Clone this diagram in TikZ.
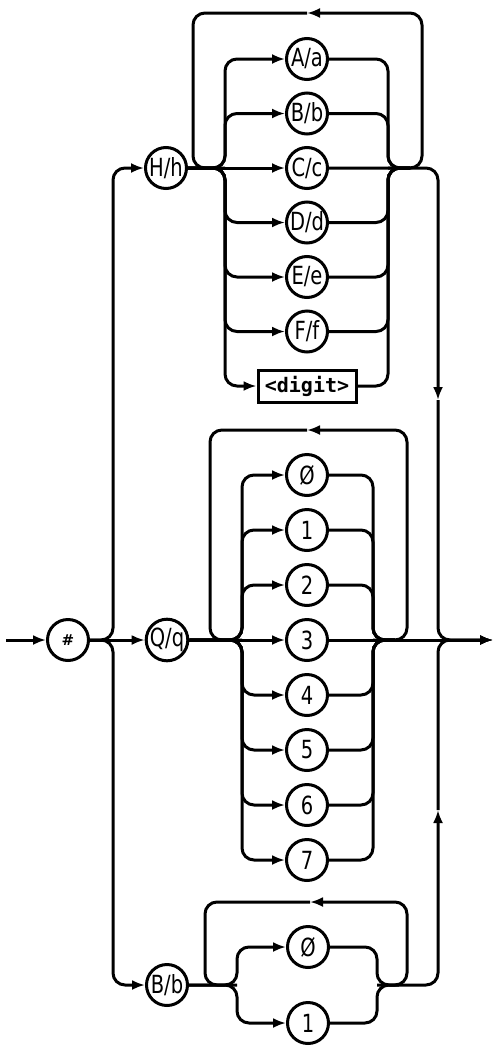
\documentclass[tikz,border=0pt]{standalone}
\usepackage{fontspec}
\setsansfont{DejaVu Sans}
\setmonofont{DejaVu Sans Mono}
\usepackage{graphicx}
\usetikzlibrary{arrows.meta}
\newcommand{\plot}[1]{\scalebox{0.78}[1]{#1}}

\begin{document}
\begin{tikzpicture}[x=1pt,y=-1pt,line width=3pt,
  sym/.style={circle,draw,minimum size=41pt,inner sep=0pt,font=\sffamily\fontsize{25}{25}\selectfont},
  nonterm/.style={rectangle,draw,minimum width=98pt,minimum height=32pt,inner sep=0pt,font=\ttfamily\bfseries\fontsize{20}{20}\selectfont},
  track/.style={rounded corners=12pt},
  arr/.style={-{Latex[length=13pt,width=10pt]}}]
\useasboundingbox (0,0) rectangle (495,1047);
\node[sym,font=\sffamily\bfseries\fontsize{15}{15}\selectfont] (hash) at (68,640) {\#};
\node[sym] (hh) at (166,168) {\plot{H/h}};
\node[sym] (qq) at (167,640) {\plot{Q/q}};
\node[sym] (bb) at (167,985) {\plot{B/b}};
\node[sym] (ha) at (307,59) {\plot{A/a}};
\node[sym] (hb) at (307,113.5) {\plot{B/b}};
\node[sym] (hc) at (307,168) {\plot{C/c}};
\node[sym] (hd) at (307,222.5) {\plot{D/d}};
\node[sym] (he) at (307,277) {\plot{E/e}};
\node[sym] (hf) at (307,331.5) {\plot{F/f}};
\node[nonterm] (hg) at (307,386) {<digit>};
\node[sym] (o0) at (307,475) {\plot{Ø}};
\node[sym] (o1) at (307,530) {\plot{1}};
\node[sym] (o2) at (307,585) {\plot{2}};
\node[sym] (o3) at (307,640) {\plot{3}};
\node[sym] (o4) at (307,695) {\plot{4}};
\node[sym] (o5) at (307,750) {\plot{5}};
\node[sym] (o6) at (307,805) {\plot{6}};
\node[sym] (o7) at (307,860) {\plot{7}};
\node[sym] (b0) at (308,947) {\plot{Ø}};
\node[sym] (b1) at (308,1023) {\plot{1}};
\coordinate (in) at (6,640);
\coordinate (out) at (493,640);
\coordinate (railL) at (113,640);
\coordinate (railR) at (438,640);
\coordinate (hexsplit) at (225,168);
\coordinate (hexjoin) at (388,168);
\coordinate (hexmerge) at (410,168);
\coordinate (hexloopL) at (193,168);
\coordinate (hexloopR) at (422,168);
\coordinate (hextop) at (307,13);
\coordinate (hexout) at (438,168);
\coordinate (hexdown) at (438,400);
\coordinate (octsplit) at (242,640);
\coordinate (octjoin) at (373,640);
\coordinate (octmerge) at (395,640);
\coordinate (octloopL) at (210,640);
\coordinate (octloopR) at (407,640);
\coordinate (octtop) at (307,430);
\coordinate (binsplit) at (237,985);
\coordinate (binjoin) at (377,985);
\coordinate (binmerge) at (399,985);
\coordinate (binloopL) at (205,985);
\coordinate (binloopR) at (407,985);
\coordinate (bintop) at (310,902);
\coordinate (binout) at (438,985);
\coordinate (binup) at (438,810);
\draw[arr] (in) -- (hash);
\draw[track,arr] (hash) -- (railL) |- (hh);
\draw[arr] (hash) -- (qq);
\draw[track,arr] (hash) -- (railL) |- (bb);
\draw[arr] (hh) -- (hc);
\draw[track,arr] (hh) -- (hexsplit) |- (ha);
\draw[track,arr] (hh) -- (hexsplit) |- (hb);
\draw[track,arr] (hh) -- (hexsplit) |- (hd);
\draw[track,arr] (hh) -- (hexsplit) |- (he);
\draw[track,arr] (hh) -- (hexsplit) |- (hf);
\draw[track,arr] (hh) -- (hexsplit) |- (hg);
\draw[track] (ha) -| (hexjoin) -- (hexmerge);
\draw[track] (hb) -| (hexjoin) -- (hexmerge);
\draw[track] (hd) -| (hexjoin) -- (hexmerge);
\draw[track] (he) -| (hexjoin) -- (hexmerge);
\draw[track] (hf) -| (hexjoin) -- (hexmerge);
\draw[track] (hg) -| (hexjoin) -- (hexmerge);
\draw[track,arr] (hexjoin) -- (hexloopR) |- (hextop);
\draw[track] (hextop) -| (hexloopL) -- (hexsplit);
\draw[track,arr] (hc) -- (hexout) -- (hexdown);
\draw[track,arr] (hexdown) -- (railR) -- (out);
\draw[arr] (qq) -- (o3);
\draw[track,arr] (qq) -- (octsplit) |- (o0);
\draw[track,arr] (qq) -- (octsplit) |- (o1);
\draw[track,arr] (qq) -- (octsplit) |- (o2);
\draw[track,arr] (qq) -- (octsplit) |- (o4);
\draw[track,arr] (qq) -- (octsplit) |- (o5);
\draw[track,arr] (qq) -- (octsplit) |- (o6);
\draw[track,arr] (qq) -- (octsplit) |- (o7);
\draw[track] (o0) -| (octjoin) -- (octmerge);
\draw[track] (o1) -| (octjoin) -- (octmerge);
\draw[track] (o2) -| (octjoin) -- (octmerge);
\draw[track] (o4) -| (octjoin) -- (octmerge);
\draw[track] (o5) -| (octjoin) -- (octmerge);
\draw[track] (o6) -| (octjoin) -- (octmerge);
\draw[track] (o7) -| (octjoin) -- (octmerge);
\draw[track,arr] (octjoin) -- (octloopR) |- (octtop);
\draw[track] (octtop) -| (octloopL) -- (octsplit);
\draw[arr] (o3) -- (out);
\draw[track,arr] (bb) -- (binsplit) |- (b0);
\draw[track,arr] (bb) -- (binsplit) |- (b1);
\draw[track,arr] (b0) -| (binjoin) -- (binout) -- (binup);
\draw[track] (b1) -| (binjoin) -- (binmerge);
\draw[track,arr] (binjoin) -- (binloopR) |- (bintop);
\draw[track] (bintop) -| (binloopL) -- (binsplit);
\draw[track,arr] (binup) -- (railR) -- (out);
\end{tikzpicture}
\end{document}
